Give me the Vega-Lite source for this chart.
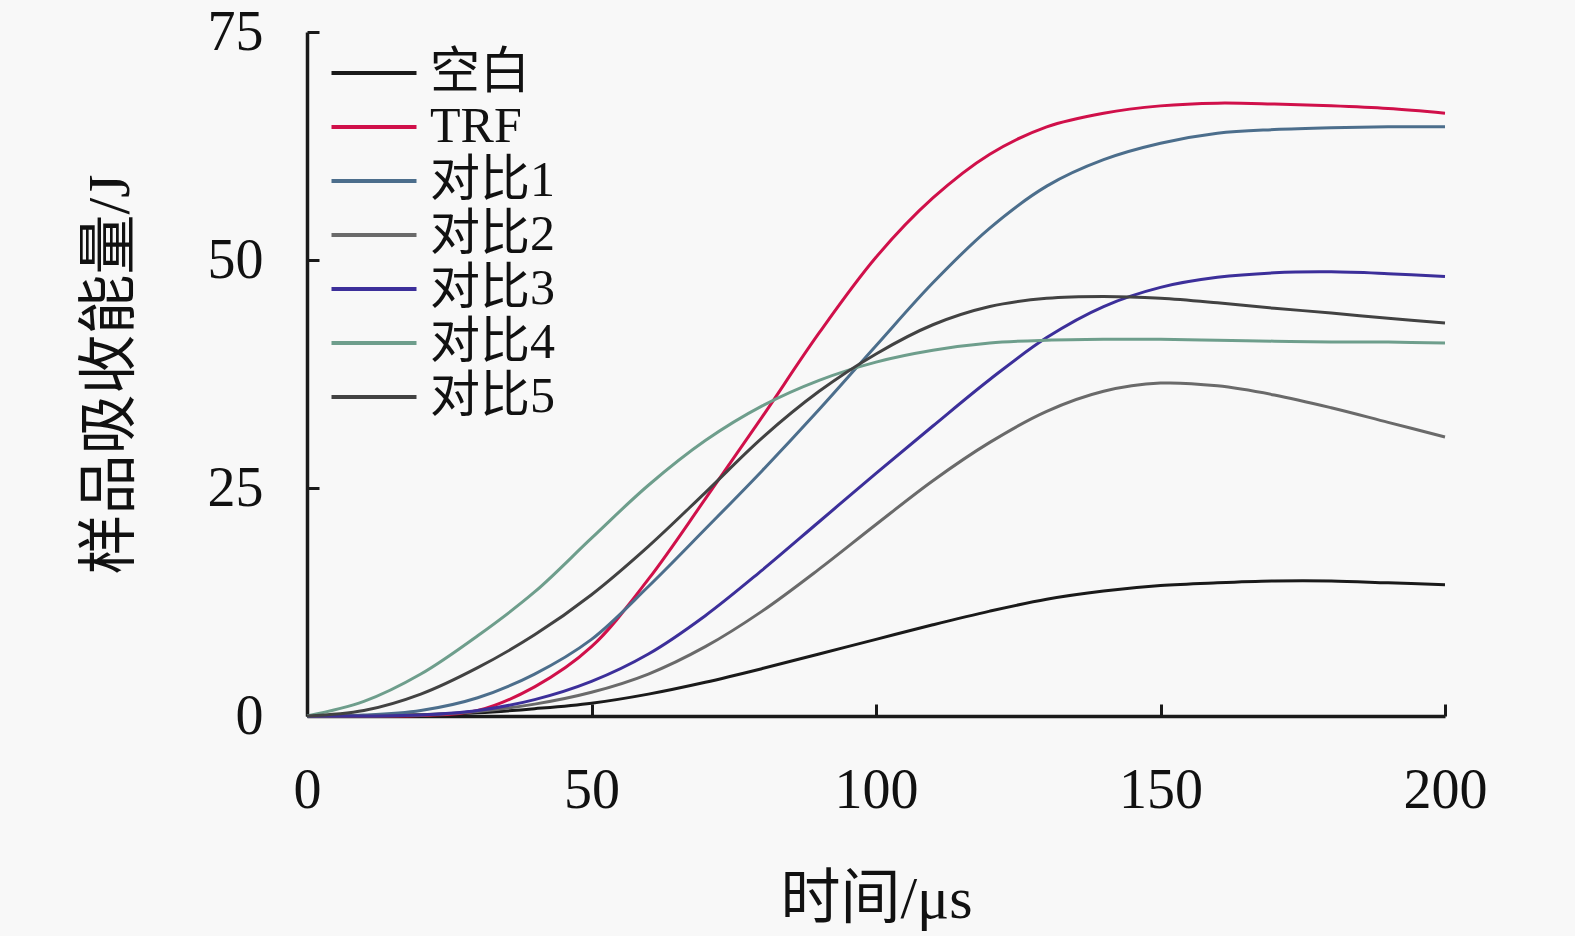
{
  "$schema": "https://vega.github.io/schema/vega-lite/v6.json",
  "width": 1138,
  "height": 684,
  "autosize": {"type": "none"},
  "padding": {"left": 307, "top": 32, "right": 130, "bottom": 220},
  "background": "#f8f8f8",
  "data": {
    "values": [
      {"t": 0, "s": "空白", "v": 0}, {"t": 10, "s": "空白", "v": 0.05}, {"t": 20, "s": "空白", "v": 0.15}, {"t": 30, "s": "空白", "v": 0.35}, {"t": 40, "s": "空白", "v": 0.8}, {"t": 50, "s": "空白", "v": 1.4}, {"t": 60, "s": "空白", "v": 2.4}, {"t": 70, "s": "空白", "v": 3.7}, {"t": 80, "s": "空白", "v": 5.2}, {"t": 90, "s": "空白", "v": 6.8}, {"t": 100, "s": "空白", "v": 8.4}, {"t": 110, "s": "空白", "v": 10.0}, {"t": 120, "s": "空白", "v": 11.5}, {"t": 130, "s": "空白", "v": 12.8}, {"t": 140, "s": "空白", "v": 13.7}, {"t": 150, "s": "空白", "v": 14.3}, {"t": 160, "s": "空白", "v": 14.6}, {"t": 170, "s": "空白", "v": 14.8}, {"t": 180, "s": "空白", "v": 14.8}, {"t": 190, "s": "空白", "v": 14.6}, {"t": 200, "s": "空白", "v": 14.4},
      {"t": 0, "s": "TRF", "v": 0}, {"t": 10, "s": "TRF", "v": 0}, {"t": 20, "s": "TRF", "v": 0.05}, {"t": 30, "s": "TRF", "v": 0.6}, {"t": 40, "s": "TRF", "v": 3.2}, {"t": 50, "s": "TRF", "v": 7.6}, {"t": 60, "s": "TRF", "v": 15.0}, {"t": 70, "s": "TRF", "v": 23.8}, {"t": 80, "s": "TRF", "v": 32.8}, {"t": 90, "s": "TRF", "v": 42.0}, {"t": 100, "s": "TRF", "v": 50.3}, {"t": 110, "s": "TRF", "v": 56.8}, {"t": 120, "s": "TRF", "v": 61.6}, {"t": 130, "s": "TRF", "v": 64.6}, {"t": 140, "s": "TRF", "v": 66.1}, {"t": 150, "s": "TRF", "v": 66.9}, {"t": 160, "s": "TRF", "v": 67.2}, {"t": 170, "s": "TRF", "v": 67.1}, {"t": 180, "s": "TRF", "v": 66.9}, {"t": 190, "s": "TRF", "v": 66.6}, {"t": 200, "s": "TRF", "v": 66.1},
      {"t": 0, "s": "对比1", "v": 0}, {"t": 10, "s": "对比1", "v": 0.1}, {"t": 20, "s": "对比1", "v": 0.6}, {"t": 30, "s": "对比1", "v": 2.0}, {"t": 40, "s": "对比1", "v": 4.6}, {"t": 50, "s": "对比1", "v": 8.4}, {"t": 60, "s": "对比1", "v": 14.2}, {"t": 70, "s": "对比1", "v": 20.5}, {"t": 80, "s": "对比1", "v": 26.9}, {"t": 90, "s": "对比1", "v": 33.6}, {"t": 100, "s": "对比1", "v": 40.6}, {"t": 110, "s": "对比1", "v": 47.5}, {"t": 120, "s": "对比1", "v": 53.5}, {"t": 130, "s": "对比1", "v": 58.1}, {"t": 140, "s": "对比1", "v": 61.0}, {"t": 150, "s": "对比1", "v": 62.8}, {"t": 160, "s": "对比1", "v": 63.9}, {"t": 170, "s": "对比1", "v": 64.3}, {"t": 180, "s": "对比1", "v": 64.5}, {"t": 190, "s": "对比1", "v": 64.6}, {"t": 200, "s": "对比1", "v": 64.6},
      {"t": 0, "s": "对比2", "v": 0}, {"t": 10, "s": "对比2", "v": 0}, {"t": 20, "s": "对比2", "v": 0.1}, {"t": 30, "s": "对比2", "v": 0.5}, {"t": 40, "s": "对比2", "v": 1.3}, {"t": 50, "s": "对比2", "v": 2.6}, {"t": 60, "s": "对比2", "v": 4.6}, {"t": 70, "s": "对比2", "v": 7.6}, {"t": 80, "s": "对比2", "v": 11.5}, {"t": 90, "s": "对比2", "v": 16.1}, {"t": 100, "s": "对比2", "v": 21.0}, {"t": 110, "s": "对比2", "v": 25.8}, {"t": 120, "s": "对比2", "v": 30.0}, {"t": 130, "s": "对比2", "v": 33.4}, {"t": 140, "s": "对比2", "v": 35.6}, {"t": 150, "s": "对比2", "v": 36.5}, {"t": 160, "s": "对比2", "v": 36.2}, {"t": 170, "s": "对比2", "v": 35.2}, {"t": 180, "s": "对比2", "v": 33.8}, {"t": 190, "s": "对比2", "v": 32.2}, {"t": 200, "s": "对比2", "v": 30.6},
      {"t": 0, "s": "对比3", "v": 0}, {"t": 10, "s": "对比3", "v": 0}, {"t": 20, "s": "对比3", "v": 0.1}, {"t": 30, "s": "对比3", "v": 0.6}, {"t": 40, "s": "对比3", "v": 1.8}, {"t": 50, "s": "对比3", "v": 3.8}, {"t": 60, "s": "对比3", "v": 6.8}, {"t": 70, "s": "对比3", "v": 11.0}, {"t": 80, "s": "对比3", "v": 16.0}, {"t": 90, "s": "对比3", "v": 21.3}, {"t": 100, "s": "对比3", "v": 26.6}, {"t": 110, "s": "对比3", "v": 31.8}, {"t": 120, "s": "对比3", "v": 36.9}, {"t": 130, "s": "对比3", "v": 41.5}, {"t": 140, "s": "对比3", "v": 44.9}, {"t": 150, "s": "对比3", "v": 47.0}, {"t": 160, "s": "对比3", "v": 48.1}, {"t": 170, "s": "对比3", "v": 48.6}, {"t": 180, "s": "对比3", "v": 48.7}, {"t": 190, "s": "对比3", "v": 48.5}, {"t": 200, "s": "对比3", "v": 48.2},
      {"t": 0, "s": "对比4", "v": 0}, {"t": 10, "s": "对比4", "v": 1.6}, {"t": 20, "s": "对比4", "v": 4.6}, {"t": 30, "s": "对比4", "v": 8.8}, {"t": 40, "s": "对比4", "v": 13.6}, {"t": 50, "s": "对比4", "v": 19.5}, {"t": 60, "s": "对比4", "v": 25.3}, {"t": 70, "s": "对比4", "v": 30.2}, {"t": 80, "s": "对比4", "v": 34.0}, {"t": 90, "s": "对比4", "v": 36.8}, {"t": 100, "s": "对比4", "v": 38.8}, {"t": 110, "s": "对比4", "v": 40.1}, {"t": 120, "s": "对比4", "v": 40.9}, {"t": 130, "s": "对比4", "v": 41.2}, {"t": 140, "s": "对比4", "v": 41.3}, {"t": 150, "s": "对比4", "v": 41.3}, {"t": 160, "s": "对比4", "v": 41.2}, {"t": 170, "s": "对比4", "v": 41.1}, {"t": 180, "s": "对比4", "v": 41.0}, {"t": 190, "s": "对比4", "v": 41.0}, {"t": 200, "s": "对比4", "v": 40.9},
      {"t": 0, "s": "对比5", "v": 0}, {"t": 10, "s": "对比5", "v": 0.6}, {"t": 20, "s": "对比5", "v": 2.4}, {"t": 30, "s": "对比5", "v": 5.3}, {"t": 40, "s": "对比5", "v": 8.9}, {"t": 50, "s": "对比5", "v": 13.3}, {"t": 60, "s": "对比5", "v": 18.6}, {"t": 70, "s": "对比5", "v": 24.5}, {"t": 80, "s": "对比5", "v": 30.5}, {"t": 90, "s": "对比5", "v": 35.6}, {"t": 100, "s": "对比5", "v": 39.7}, {"t": 110, "s": "对比5", "v": 42.9}, {"t": 120, "s": "对比5", "v": 44.9}, {"t": 130, "s": "对比5", "v": 45.8}, {"t": 140, "s": "对比5", "v": 46.0}, {"t": 150, "s": "对比5", "v": 45.8}, {"t": 160, "s": "对比5", "v": 45.3}, {"t": 170, "s": "对比5", "v": 44.7}, {"t": 180, "s": "对比5", "v": 44.2}, {"t": 190, "s": "对比5", "v": 43.6}, {"t": 200, "s": "对比5", "v": 43.1}
    ]
  },
  "mark": {"type": "line", "interpolate": "catmull-rom", "strokeWidth": 3},
  "encoding": {
    "x": {
      "field": "t",
      "type": "quantitative",
      "title": "时间/μs",
      "scale": {"domain": [0, 200], "nice": false},
      "axis": {"values": [0, 50, 100, 150, 200], "labelFlush": false, "labelPadding": 59, "titlePadding": 52}
    },
    "y": {
      "field": "v",
      "type": "quantitative",
      "title": "样品吸收能量/J",
      "scale": {"domain": [0, 75], "nice": false},
      "axis": {"values": [0, 25, 50, 75], "labelFlush": false, "labelPadding": 56, "titlePadding": 66}
    },
    "color": {
      "field": "s",
      "type": "nominal",
      "scale": {
        "domain": ["空白", "TRF", "对比1", "对比2", "对比3", "对比4", "对比5"],
        "range": ["#1a1a1a", "#d0104a", "#4c6e8c", "#6a6a6a", "#3c2f9a", "#6e9e8c", "#424242"]
      },
      "legend": {
        "title": null,
        "orient": "none",
        "legendX": 42,
        "legendY": 16,
        "symbolType": "M-2.125,0H2.125",
        "symbolSize": 1600,
        "symbolStrokeWidth": 4,
        "labelOffset": 31,
        "labelFontSize": 50,
        "rowPadding": 4,
        "labelColor": "#111"
      }
    }
  },
  "config": {
    "font": "Liberation Serif, Noto Sans CJK SC",
    "view": {"stroke": null},
    "axis": {
      "grid": false,
      "domainColor": "#1a1a1a",
      "domainWidth": 3.5,
      "tickColor": "#1a1a1a",
      "tickWidth": 3,
      "tickSize": -12,
      "labelFontSize": 56,
      "labelColor": "#111",
      "labelFont": "Liberation Serif",
      "titleFontSize": 60,
      "titleFontWeight": "normal",
      "titleColor": "#111"
    },
    "legend": {"labelFont": "Liberation Serif, Noto Sans CJK SC"}
  }
}
